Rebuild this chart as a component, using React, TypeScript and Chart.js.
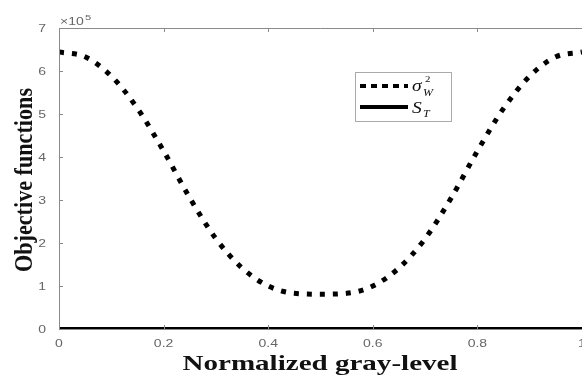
import React, { useEffect, useRef } from "react";
import { Chart, registerables } from "chart.js";

Chart.register(...registerables);

const xValues = [0, 0.05, 0.1, 0.15, 0.2, 0.25, 0.3, 0.35, 0.4, 0.45, 0.5, 0.55, 0.6, 0.65, 0.7, 0.75, 0.8, 0.85, 0.9, 0.95, 1.0];
const sigmaW = [6.44, 6.33, 5.88, 5.13, 4.14, 3.05, 2.1, 1.42, 1.0, 0.83, 0.81, 0.83, 1.0, 1.42, 2.1, 3.05, 4.14, 5.13, 5.88, 6.33, 6.44];
const sT = [0, 0, 0, 0, 0, 0, 0, 0, 0, 0, 0, 0, 0, 0, 0, 0, 0, 0, 0, 0, 0];
const xTicks = [0, 0.2, 0.4, 0.6, 0.8, 1];
const yTicks = [0, 1, 2, 3, 4, 5, 6, 7];
const xTitle = "Normalized gray-level";
const yTitle = "Objective functions";

const AXIS = "#8a8a8a";
const TICKTXT = "#666";
const SANS = "'Liberation Sans', Arial, sans-serif";
const SERIF = "'Liberation Serif', 'Times New Roman', serif";
const HS = 1.4;

function stretchedText(ctx: any, text: string, x: number, y: number, sx: number, align: "left" | "center" | "right") {
  const w = ctx.measureText(text).width * sx;
  let x0 = x;
  if (align === "center") x0 = x - w / 2;
  if (align === "right") x0 = x - w;
  ctx.save();
  ctx.translate(x0, y);
  ctx.scale(sx, 1);
  ctx.textAlign = "left";
  ctx.fillText(text, 0, 0);
  ctx.restore();
}

const decorPlugin = {
  id: "decor",
  afterDraw(chart: any) {
    const { ctx, chartArea, scales } = chart;
    const { left, right, top, bottom } = chartArea;
    ctx.save();
    // box
    ctx.strokeStyle = AXIS;
    ctx.lineWidth = 1;
    ctx.beginPath();
    ctx.moveTo(left + 0.5, bottom);
    ctx.lineTo(left + 0.5, top + 0.5);
    ctx.lineTo(right, top + 0.5);
    ctx.stroke();
    // inside ticks
    ctx.beginPath();
    xTicks.forEach((v) => {
      const px = Math.round(scales.x.getPixelForValue(v)) + 0.5;
      ctx.moveTo(px, top);
      ctx.lineTo(px, top + 4);
      ctx.moveTo(px, bottom);
      ctx.lineTo(px, bottom - 4);
    });
    yTicks.forEach((v) => {
      const py = Math.round(scales.y.getPixelForValue(v)) + 0.5;
      ctx.moveTo(left, py);
      ctx.lineTo(left + 4, py);
    });
    ctx.stroke();
    // tick labels
    ctx.fillStyle = TICKTXT;
    ctx.font = `10px ${SANS}`;
    ctx.textBaseline = "middle";
    xTicks.forEach((v) => {
      const px = scales.x.getPixelForValue(v);
      stretchedText(ctx, String(v), px, 344, HS, "center");
    });
    yTicks.forEach((v) => {
      const py = scales.y.getPixelForValue(v);
      stretchedText(ctx, String(v), 46, py + 1, HS, "right");
    });
    // x10^5
    ctx.textBaseline = "alphabetic";
    ctx.font = `10px ${SANS}`;
    stretchedText(ctx, "\u00d710", left + 1, top - 3, HS, "left");
    ctx.font = `8px ${SANS}`;
    stretchedText(ctx, "5", left + 26, top - 8, HS, "left");
    // titles
    ctx.fillStyle = "#111";
    ctx.font = `bold 22px ${SERIF}`;
    ctx.textBaseline = "alphabetic";
    const tw = ctx.measureText(xTitle).width;
    stretchedText(ctx, xTitle, 320, 370, 275 / tw, "center");
    ctx.save();
    ctx.translate(32, 180);
    ctx.rotate(-Math.PI / 2);
    ctx.scale(1, 1.15);
    ctx.textAlign = "center";
    ctx.font = `bold 22px ${SERIF}`;
    const yw = ctx.measureText(yTitle).width;
    ctx.save();
    ctx.scale(184 / yw, 1);
    ctx.fillText(yTitle, 0, 0);
    ctx.restore();
    ctx.restore();
    // legend
    const bx = 355, by = 72, bw = 96, bh = 49;
    ctx.fillStyle = "#fff";
    ctx.fillRect(bx, by, bw, bh);
    ctx.strokeStyle = "#aaa";
    ctx.lineWidth = 1;
    ctx.strokeRect(bx + 0.5, by + 0.5, bw, bh);
    ctx.strokeStyle = "#000";
    ctx.lineWidth = 4;
    ctx.lineCap = "butt";
    ctx.setLineDash([6, 5]);
    ctx.beginPath();
    ctx.moveTo(360, 86);
    ctx.lineTo(408, 86);
    ctx.stroke();
    ctx.setLineDash([]);
    ctx.beginPath();
    ctx.moveTo(360, 107);
    ctx.lineTo(408, 107);
    ctx.stroke();
    ctx.fillStyle = "#111";
    ctx.textAlign = "left";
    ctx.textBaseline = "alphabetic";
    ctx.font = `italic 17px ${SERIF}`;
    stretchedText(ctx, "\u03c3", 412, 91, 1.15, "left");
    stretchedText(ctx, "S", 412, 113, 1.15, "left");
    ctx.font = `9px ${SERIF}`;
    stretchedText(ctx, "2", 425, 82, 1.2, "left");
    ctx.font = `italic 10px ${SERIF}`;
    stretchedText(ctx, "W", 423, 96, 1.2, "left");
    stretchedText(ctx, "T", 423, 117, 1.2, "left");
    ctx.restore();
  },
};

export default function App() {
  const ref = useRef<HTMLCanvasElement>(null);
  useEffect(() => {
    if (!ref.current) return;
    const chart = new Chart(ref.current, {
      type: "line",
      data: {
        datasets: [
          {
            label: "sigmaW",
            data: xValues.map((x, i) => ({ x, y: sigmaW[i] })),
            borderColor: "#000",
            borderWidth: 5,
            borderDash: [5, 8],
            borderCapStyle: "butt",
            pointRadius: 0,
            cubicInterpolationMode: "monotone",
            fill: false,
          },
          {
            label: "ST",
            data: xValues.map((x, i) => ({ x, y: sT[i] })),
            borderColor: "#000",
            borderWidth: 4,
            pointRadius: 0,
            fill: false,
          },
        ],
      },
      options: {
        responsive: false,
        animation: false,
        layout: { padding: { top: 28, left: 0, right: 0, bottom: 0 } },
        plugins: { legend: { display: false }, tooltip: { enabled: false } },
        scales: {
          x: {
            type: "linear",
            min: 0,
            max: 1,
            afterFit: (s: any) => { s.height = 47; s.paddingLeft = 0; s.paddingRight = 0; },
            afterBuildTicks: (s: any) => { s.ticks = xTicks.map((v) => ({ value: v })); },
            grid: { display: false, drawTicks: false },
            border: { display: true, color: AXIS, width: 1 },
            ticks: { display: false },
          },
          y: {
            min: 0,
            max: 7,
            afterFit: (s: any) => { s.width = 59; s.paddingTop = 0; s.paddingBottom = 0; },
            afterBuildTicks: (s: any) => { s.ticks = yTicks.map((v) => ({ value: v })); },
            grid: { display: false, drawTicks: false },
            border: { display: true, color: AXIS, width: 1 },
            ticks: { display: false },
          },
        },
      } as any,
      plugins: [decorPlugin],
    });
    return () => chart.destroy();
  }, []);
  return (
    <div style={{ position: "fixed", left: 0, top: 0, width: 582, height: 376, background: "#fff" }}>
      <canvas ref={ref} width={582} height={376} style={{ display: "block" }} />
    </div>
  );
}
